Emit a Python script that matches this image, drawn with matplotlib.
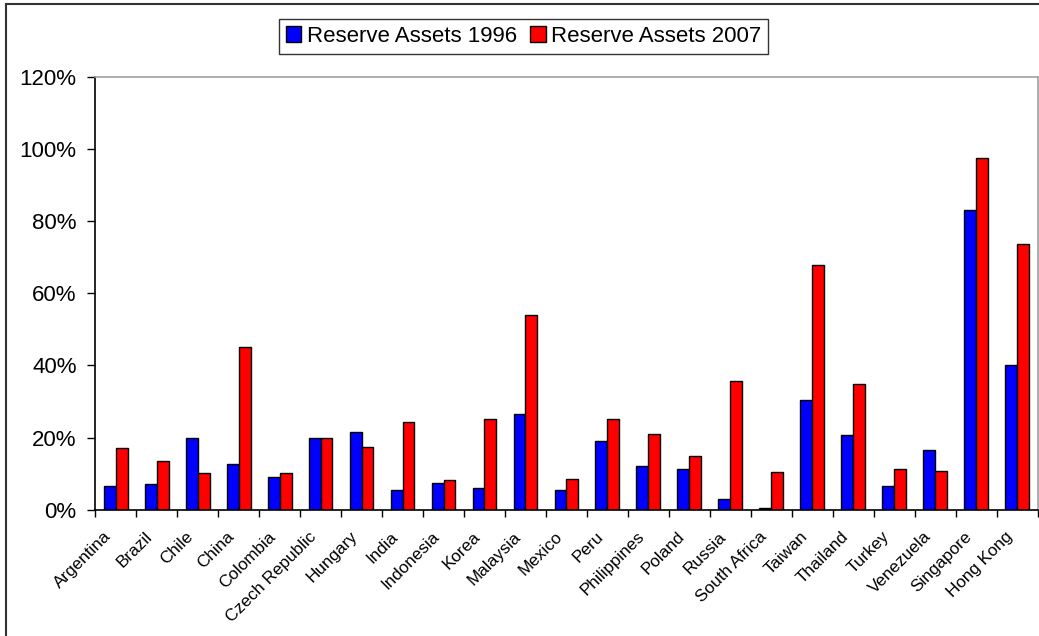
import numpy as np
import matplotlib.pyplot as plt
from matplotlib.lines import Line2D
from matplotlib.ticker import PercentFormatter
from matplotlib.transforms import ScaledTranslation

plt.rcParams['font.family'] = ['Liberation Sans', 'DejaVu Sans']

# Datos
countries = ['Argentina', 'Brazil', 'Chile', 'China', 'Colombia', 'Czech Republic',
             'Hungary', 'India', 'Indonesia', 'Korea', 'Malaysia', 'Mexico', 'Peru',
             'Philippines', 'Poland', 'Russia', 'South Africa', 'Taiwan', 'Thailand',
             'Turkey', 'Venezuela', 'Singapore', 'Hong Kong']
reserves_1996 = [6.6, 7.0, 19.8, 12.6, 9.0, 19.9, 21.5, 5.5, 7.4, 5.9, 26.4, 5.4, 18.9,
                 12.0, 11.4, 2.9, 0.6, 30.5, 20.8, 6.7, 16.6, 83.1, 40.2]
reserves_2007 = [17.2, 13.5, 10.3, 45.2, 10.1, 19.9, 17.4, 24.2, 8.1, 25.0, 54.0, 8.5, 25.0,
                 21.0, 14.9, 35.8, 10.4, 67.8, 34.7, 11.3, 10.7, 97.6, 73.7]

x = np.arange(len(countries))
w = 0.29

fig = plt.figure(figsize=(10.39, 6.36), dpi=100)
ax = fig.add_axes([0.0917, 0.1986, 0.9069, 0.6808])

b1 = ax.bar(x - w/2, reserves_1996, w, color='#0000FF', edgecolor='black', linewidth=1,
            label='Reserve Assets 1996')
b2 = ax.bar(x + w/2, reserves_2007, w, color='#FF0000', edgecolor='black', linewidth=1,
            label='Reserve Assets 2007')

ax.set_xlim(-0.5, len(countries) - 0.5)
ax.set_ylim(0, 120)
ax.set_yticks(np.arange(0, 121, 20))
ax.yaxis.set_major_formatter(PercentFormatter(decimals=0))
ax.tick_params(axis='y', labelsize=16, length=6, direction='out', width=1, pad=7.5)

# marcas entre categorias, etiquetas centradas
ax.set_xticks(np.arange(-0.5, len(countries), 1))
ax.set_xticklabels([])
ax.tick_params(axis='x', which='major', length=5, direction='out', width=1)
ax.set_xticks(x, minor=True)
ax.set_xticklabels(countries, minor=True, rotation=45, ha='right',
                   rotation_mode='anchor', fontsize=12.3)
ax.tick_params(axis='x', which='minor', length=0, pad=8)
shift = ScaledTranslation(-0.12, -0.08, fig.dpi_scale_trans)
for lab in ax.get_xticklabels(minor=True):
    lab.set_transform(lab.get_transform() + shift)

for s in ['top', 'right']:
    ax.spines[s].set_color('#A0A0A0')
    ax.spines[s].set_linewidth(1.2)
for s in ['left', 'bottom']:
    ax.spines[s].set_color('black')
    ax.spines[s].set_linewidth(1.2)

leg = fig.legend(handles=[b1, b2], loc='center', bbox_to_anchor=(0.504, 0.9426),
                 ncol=2, fontsize=16, frameon=True, fancybox=False, borderpad=0.3,
                 handlelength=0.7, handleheight=0.7, handletextpad=0.25,
                 columnspacing=0.6, borderaxespad=0)
leg.get_frame().set_edgecolor('black')
leg.get_frame().set_linewidth(1)

# marco exterior
fig.add_artist(Line2D([6/1039, 1], [1 - 4/636, 1 - 4/636], color='#333333', lw=1.5))
fig.add_artist(Line2D([6/1039, 6/1039], [0, 1 - 4/636], color='#333333', lw=1.5))

fig.savefig('out.png', dpi=100)
